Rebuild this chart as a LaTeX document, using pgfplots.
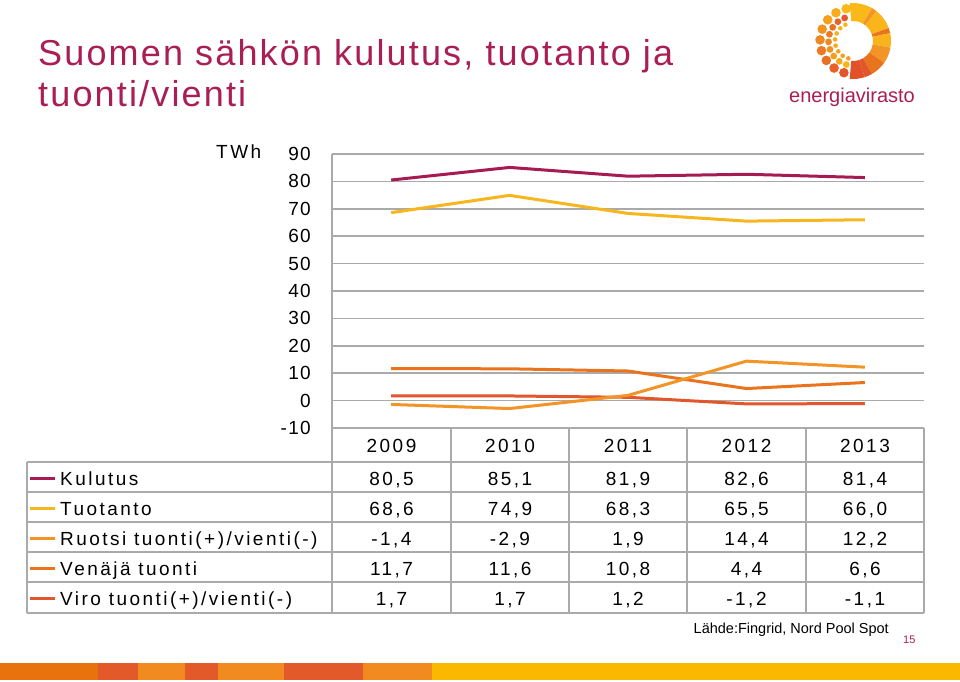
\documentclass[border=0pt]{standalone}
\usepackage{pgfplots}
\pgfplotsset{compat=1.18}
\usepackage{fontspec}
\setmainfont{Liberation Sans}
\newfontfamily\spc[LetterSpace=13]{Liberation Sans}
\newfontfamily\tks[LetterSpace=7]{Liberation Sans}
\newfontfamily\ttl[LetterSpace=6]{Liberation Sans}
\definecolor{titlec}{RGB}{170,30,86}
\definecolor{kul}{RGB}{165,27,82}
\definecolor{tuo}{RGB}{247,182,29}
\definecolor{ruo}{RGB}{242,148,38}
\definecolor{ven}{RGB}{233,116,29}
\definecolor{vir}{RGB}{225,86,42}
\definecolor{gridc}{RGB}{170,170,170}
\definecolor{lyel}{RGB}{250,185,25}
\definecolor{lred}{RGB}{226,82,42}
\definecolor{sA}{RGB}{232,115,12}
\definecolor{sB}{RGB}{227,90,42}
\definecolor{sC}{RGB}{241,138,31}
\definecolor{sD}{RGB}{251,184,0}
\newcommand{\tf}{\spc\fontsize{19}{19}\selectfont}
\newcommand{\val}[3]{\node[anchor=base, font=\tf, inner sep=0pt] at (#1,681-#2) {#3};}
\newcommand{\row}[6]{\val{391.5}{#1}{#2}\val{510}{#1}{#3}\val{628}{#1}{#4}\val{746.5}{#1}{#5}\val{865}{#1}{#6}}
\newcommand{\leg}[3]{\draw[#2, line width=3pt] (30,681-#1+7) -- (55,681-#1+7);
  \node[anchor=base west, font=\tf, inner sep=0pt] at (60,681-#1) {#3};}
\begin{document}
\begin{tikzpicture}[x=1pt,y=1pt]
\fill[white] (0,0) rectangle (960,681);
% title
\node[anchor=base west, text=titlec, font=\ttl\fontsize{36}{41}\selectfont, inner sep=0pt] at (38,615) {Suomen sähkön kulutus, tuotanto ja};
\node[anchor=base west, text=titlec, font=\ttl\fontsize{36}{41}\selectfont, inner sep=0pt] at (38,574) {tuonti/vienti};
% logo
\begin{scope}[shift={(853pt,640pt)}]
\foreach \a/\b/\c in {95/60/lyel, 60/52/ruo, 52/20/lyel!90!ruo, 20/12/ven, 12/-10/lyel!85!ruo, -10/-35/ruo, -35/-60/ven, -60/-72/vir, -72/-95/lred}{
  \fill[\c] (\a:38pt) arc[start angle=\a, end angle=\b, radius=38pt] -- (\b:20pt) arc[start angle=\b, end angle=\a, radius=20pt] -- cycle;
}
\foreach \a in {102,121,140,159,178,197,216,235,254}{
  \pgfmathtruncatemacro{\p}{(\a-100)/1.6}
  \fill[lred!\p!lyel] (\a:33pt) circle[radius=4.8pt];
}
\foreach \a in {110,128,146,164,182,200,218,236,254}{
  \pgfmathtruncatemacro{\p}{100-(\a-100)/1.6}
  \fill[lred!\p!lyel] (\a:24.5pt) circle[radius=3.4pt];
}
\foreach \a in {115,135,155,175,195,215,235,255}{
  \pgfmathtruncatemacro{\p}{(\a-100)/2}
  \fill[ruo!\p!lyel] (\a:18pt) circle[radius=2.3pt];
}
\end{scope}
\node[anchor=base west, text=titlec, font=\fontsize{20}{20}\selectfont, inner sep=0pt] at (789,578) {energiavirasto};
% unit
\node[anchor=base west, font=\tf, inner sep=0pt] at (216,522) {TWh};
\begin{axis}[at={(332pt,253pt)}, anchor=south west, scale only axis,
  width=592pt, height=274pt, xmin=-0.5, xmax=4.5, ymin=-10, ymax=90,
  axis line style={draw=none}, xtick=\empty,
  ytick={-10,0,10,20,30,40,50,60,70,80,90},
  yticklabels={-10,0,10,20,30,40,50,60,70,80,90},
  ymajorgrids, major grid style={gridc, line width=1.5pt}, major tick length=0pt,
  yticklabel style={font=\tks\fontsize{19}{19}\selectfont, anchor=east, inner sep=0pt, xshift=-21pt},
  clip=false]
\addplot[ven, line width=3pt] coordinates {(0,11.7) (1,11.6) (2,10.8) (3,4.4) (4,6.6)};
\addplot[vir, line width=3pt] coordinates {(0,1.7) (1,1.7) (2,1.2) (3,-1.2) (4,-1.1)};
\addplot[ruo, line width=3pt] coordinates {(0,-1.4) (1,-2.9) (2,1.9) (3,14.4) (4,12.2)};
\addplot[tuo, line width=3pt] coordinates {(0,68.6) (1,74.9) (2,68.3) (3,65.5) (4,66.0)};
\addplot[kul, line width=3pt] coordinates {(0,80.5) (1,85.1) (2,81.9) (3,82.6) (4,81.4)};
\end{axis}
% table lines
\begin{scope}[gridc, line width=1.5pt]
\foreach \yy in {462,492,522,552,582,613}{\draw (27,681-\yy) -- (924,681-\yy);}
\draw (27,681-462) -- (27,681-613);
\draw (332,681-154) -- (332,681-613);
\foreach \xx in {451,569,687,806,924}{\draw (\xx,681-428) -- (\xx,681-613);}
\end{scope}
% headers
\row{452}{2009}{2010}{2011}{2012}{2013}
% rows
\leg{485}{kul}{Kulutus}
\leg{515}{tuo}{Tuotanto}
\leg{545}{ruo}{Ruotsi tuonti(+)/vienti(-)}
\leg{575}{ven}{Venäjä tuonti}
\leg{605}{vir}{Viro tuonti(+)/vienti(-)}
\row{485}{80,5}{85,1}{81,9}{82,6}{81,4}
\row{515}{68,6}{74,9}{68,3}{65,5}{66,0}
\row{545}{-1,4}{-2,9}{1,9}{14,4}{12,2}
\row{575}{11,7}{11,6}{10,8}{4,4}{6,6}
\row{605}{1,7}{1,7}{1,2}{-1,2}{-1,1}
% footer
\node[anchor=base east, font=\fontsize{14.5}{14.5}\selectfont, inner sep=0pt] at (889,681-633) {Lähde:Fingrid, Nord Pool Spot};
\node[anchor=base west, text=titlec, font=\fontsize{11}{11}\selectfont, inner sep=0pt] at (903,681-643) {15};
% bottom stripe
\fill[sA] (0,1) rectangle (98,18);
\fill[sB] (98,1) rectangle (138,18);
\fill[sC] (138,1) rectangle (185,18);
\fill[sB] (185,1) rectangle (218,18);
\fill[sC] (218,1) rectangle (284,18);
\fill[sB] (284,1) rectangle (363,18);
\fill[sC] (363,1) rectangle (432,18);
\fill[sD] (432,1) rectangle (960,18);
\end{tikzpicture}
\end{document}
